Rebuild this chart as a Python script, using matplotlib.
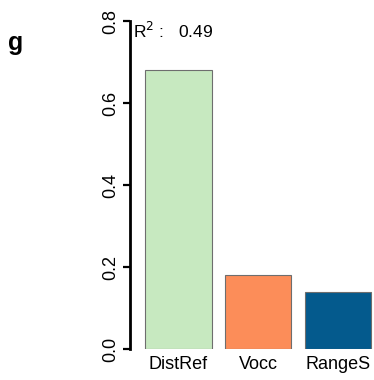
import matplotlib.pyplot as plt

# variable importance (R2 contribution) per predictor
predictors = ['DistRef', 'Vocc', 'RangeS']
importance = [0.68, 0.18, 0.14]
bar_colors = ['#C7E9C0', '#FC8D59', '#045A8D']
r_squared = 0.49
y_ticks = [0.0, 0.2, 0.4, 0.6, 0.8]

plt.rcParams['font.family'] = ['Liberation Sans', 'DejaVu Sans']

fig = plt.figure(figsize=(3.74, 3.80), dpi=100)
ax = fig.add_axes([130 / 374, 31 / 380, 244 / 374, 328 / 380])

# bar positions like R barplot: width 1, space 0.2
pos = [0.2 + 1.2 * i + 0.5 for i in range(len(predictors))]
ax.bar(pos, importance, width=1.0, color=bar_colors, edgecolor='#6e6e6e', linewidth=0.8)

ax.set_xlim(-0.026, 3.64)
ax.set_ylim(0, 0.8)
ax.set_xticks(pos)
ax.set_xticklabels(predictors, fontsize=13)
ax.tick_params(axis='x', length=0, pad=5)

ax.set_yticks(y_ticks)
ax.set_yticklabels(['%.1f' % v for v in y_ticks], rotation=90, va='center', fontsize=13)
ax.tick_params(axis='y', length=5, width=1.6, pad=3)

for s in ['top', 'right', 'bottom']:
    ax.spines[s].set_visible(False)
ax.spines['left'].set_linewidth(2)

ax.text(0.02, 0.775, 'R$^2$ :   %.2f' % r_squared, fontsize=12.5, va='center', ha='left')
fig.text(8 / 374, 1 - 50 / 380, 'g', fontsize=18, fontweight='bold', ha='left', va='baseline')

fig.savefig('out.png', dpi=100)
